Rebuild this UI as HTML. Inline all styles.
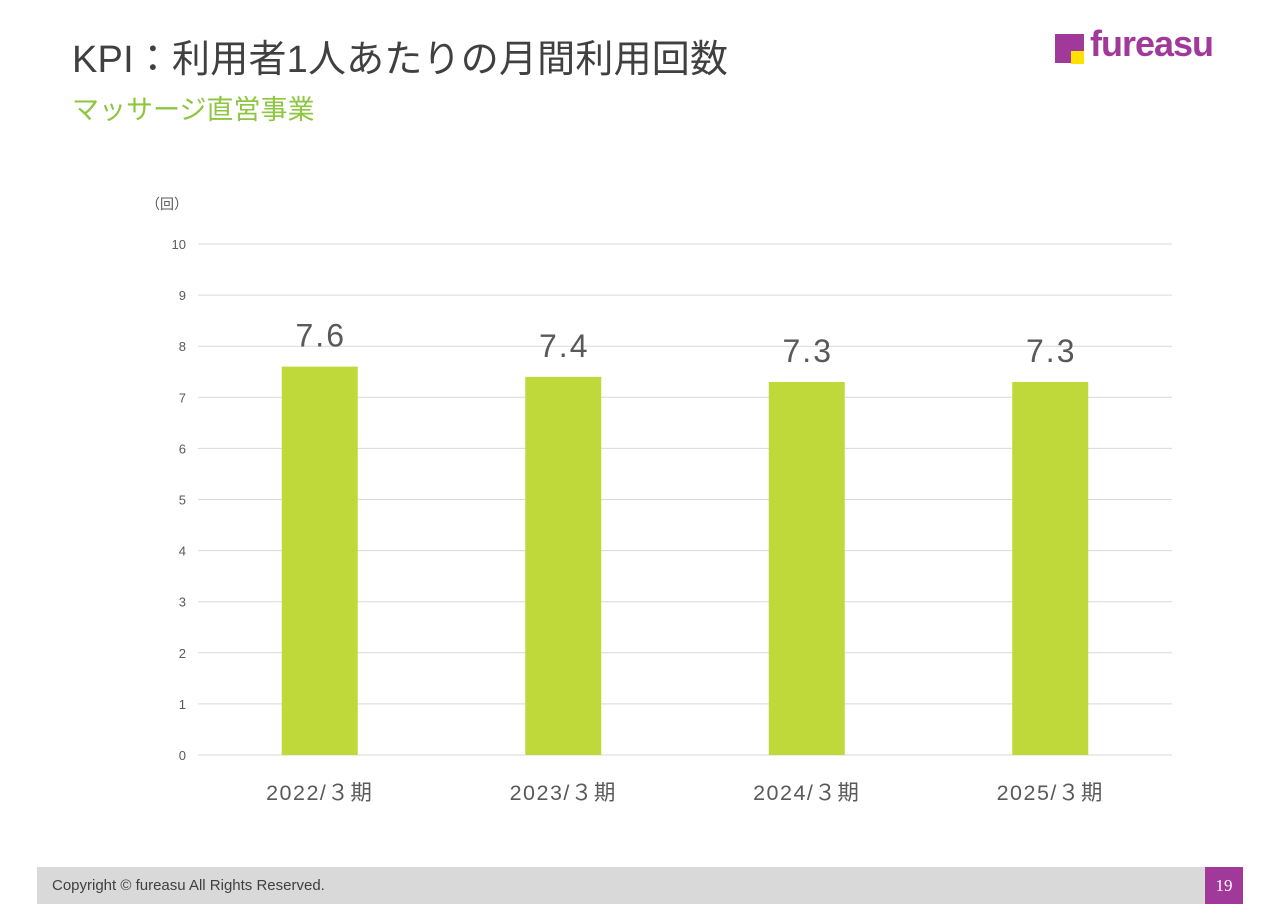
<!DOCTYPE html>
<html><head><meta charset="utf-8"><style>
body{margin:0;width:1280px;height:904px;background:#fff;position:relative;overflow:hidden;font-family:"Liberation Sans","Noto Sans CJK JP",sans-serif}
.abs{position:absolute}
</style></head><body>
<div class="abs" style="left:72px;top:28px;font-size:38px;color:#404040;white-space:nowrap;letter-spacing:0.2px">KPI：利用者1人あたりの月間利用回数</div>
<div class="abs" style="left:72px;top:88px;font-size:27px;color:#8dc63f;white-space:nowrap">マッサージ直営事業</div>
<div class="abs" style="left:1055px;top:33px;width:160px;height:34px">
  <div style="position:absolute;left:0;top:1px;width:29px;height:29px;background:#a0399a"></div>
  <div style="position:absolute;left:16px;top:18px;width:13px;height:13px;background:#ffe100"></div>
  <div style="position:absolute;left:35px;top:-10px;font-size:36px;font-weight:bold;color:#a0399a;letter-spacing:-1px">fureasu</div>
</div>
<svg class="abs" style="left:0;top:0" width="1280" height="904">
<g id="chart"></g>
</svg>
<div class="abs" style="left:37px;top:867px;width:1168px;height:37px;background:#d9d9d9"></div>
<div class="abs" style="left:52px;top:877px;font-size:15px;color:#404040">Copyright © fureasu All Rights Reserved.</div>
<div class="abs" style="left:1205px;top:867px;width:38px;height:37px;background:#a0399a;color:#fff;font-family:'Liberation Serif',serif;font-size:17px;text-align:center;line-height:37px">19</div>
<script>
const categories=["2022/３期","2023/３期","2024/３期","2025/３期"];
const values=[7.6,7.4,7.3,7.3];
const ticks=[0,1,2,3,4,5,6,7,8,9,10];
const NS="http://www.w3.org/2000/svg";
const g=document.getElementById('chart');
const x0=198,x1=1172,y0=755,y10=244;
const y=v=>y0-(y0-y10)*v/10;
const band=(x1-x0)/categories.length;
const cx=i=>x0+band*(i+0.5);
function mk(t,a,txt){const e=document.createElementNS(NS,t);for(const k in a)e.setAttribute(k,a[k]);if(txt!==undefined)e.textContent=txt;g.appendChild(e);return e;}
ticks.forEach(t=>{
  const l=mk('line',{x1:x0,x2:x1,y1:y(t),y2:y(t),stroke:'#d9d9d9','stroke-width':1});
  
  
  const tx=mk('text',{x:186,y:y(t)+5,'text-anchor':'end','font-size':13,fill:'#595959'},t);
  
  
});
const u=mk('text',{x:146,y:209,'font-size':14,fill:'#595959','font-family':'Liberation Sans, Noto Sans CJK JP, sans-serif'},'（回）');


values.forEach((v,i)=>{
  const b=mk('rect',{x:cx(i)-38,y:y(v),width:76,height:y0-y(v),fill:'#c0d93a'});
  
  
  const t=mk('text',{x:cx(i)+1,y:y(v)-20,'text-anchor':'middle','font-size':32,fill:'#595959','letter-spacing':2},v.toFixed(1));
  
  
  const c=mk('text',{x:cx(i),y:800,'text-anchor':'middle','font-size':21.5,fill:'#595959','letter-spacing':1.5},categories[i]);
  
  
});
</script>
</body></html>
